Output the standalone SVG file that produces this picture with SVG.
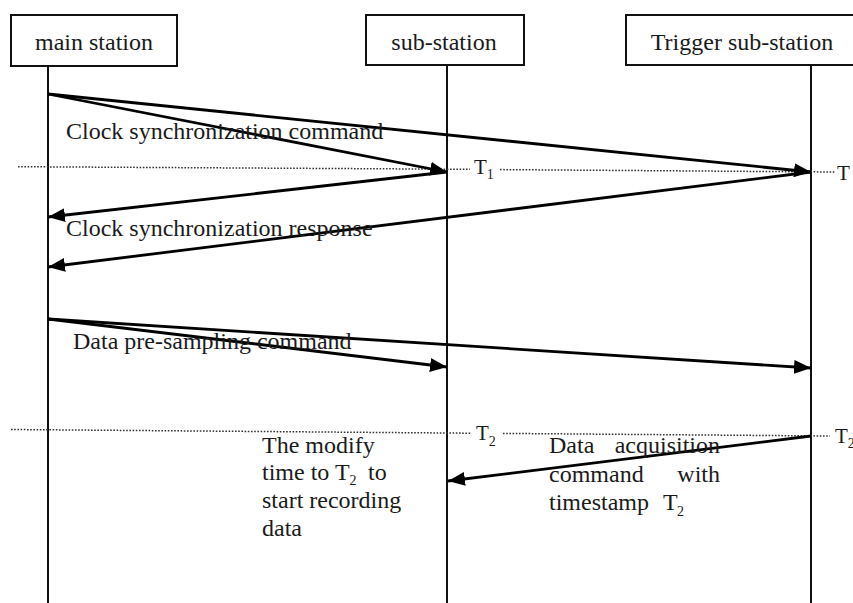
<svg xmlns="http://www.w3.org/2000/svg" width="853" height="603" viewBox="0 0 853 603">
<style>
.box{fill:#fff;stroke:#111;stroke-width:2}
.life{stroke:#111;stroke-width:2;fill:none}
.msg{stroke:#000;stroke-width:2.8;fill:none;marker-end:url(#ah)}
.dot{stroke:#333;stroke-width:1.5;stroke-dasharray:1.6 1.6;fill:none}
text{font-family:"Liberation Serif","Times New Roman",serif;fill:#1a1a1a}
.lbl{font-size:24px}
.t{font-size:21px}
.sub{font-size:14px}
</style>
<defs>
<marker id="ah" markerUnits="userSpaceOnUse" markerWidth="18" markerHeight="14" refX="17" refY="7" orient="auto">
<path d="M0,0 L17,7 L0,14 Z" fill="#000"/>
</marker>
</defs>
<rect width="853" height="603" fill="#fff"/>
<g id="main-station">
<rect class="box" x="11" y="15" width="166" height="51"/>
<text class="lbl" x="94" y="50" text-anchor="middle">main station</text>
<line class="life" x1="48" y1="66" x2="48" y2="603"/>
</g>
<g id="sub-station">
<rect class="box" x="366" y="15" width="158" height="50"/>
<text class="lbl" x="444" y="50" text-anchor="middle">sub-station</text>
<line class="life" x1="447" y1="65" x2="447" y2="603"/>
</g>
<g id="trigger-sub-station">
<rect class="box" x="626" y="15" width="232" height="50"/>
<text class="lbl" x="742" y="50" text-anchor="middle">Trigger sub-station</text>
<line class="life" x1="811" y1="65" x2="811" y2="603"/>
</g>
<g id="time-marks">
<line class="dot" x1="18" y1="166.7" x2="470" y2="169.3"/>
<line class="dot" x1="500" y1="169.6" x2="835" y2="172"/>
<text class="t" x="474" y="174">T<tspan class="sub" dy="5">1</tspan></text>
<text class="t" x="837" y="180">T</text>
<line class="dot" x1="11" y1="429.5" x2="471" y2="433.2"/>
<line class="dot" x1="503" y1="433.4" x2="830" y2="436"/>
<text class="t" x="476" y="440">T<tspan class="sub" dy="6">2</tspan></text>
<text class="t" x="835" y="443">T<tspan class="sub" dy="5">2</tspan></text>
</g>
<g id="connectors">
<line class="msg" x1="48" y1="94" x2="447" y2="172"/>
<line class="msg" x1="48" y1="94" x2="811" y2="172"/>
<line class="msg" x1="447" y1="172" x2="48" y2="217"/>
<line class="msg" x1="811" y1="172" x2="48" y2="267"/>
<line class="msg" x1="48" y1="319" x2="447" y2="367"/>
<line class="msg" x1="48" y1="319" x2="811" y2="368"/>
<line class="msg" x1="811" y1="436" x2="448" y2="481"/>
</g>
<g id="labels">
<text class="lbl" x="66" y="139">Clock synchronization command</text>
<text class="lbl" x="66" y="236">Clock synchronization response</text>
<text class="lbl" x="73" y="349">Data pre-sampling command</text>
<text class="lbl" x="262" y="453">The modify</text>
<text class="lbl" x="262" y="480">time to T<tspan class="sub" dy="5">2</tspan><tspan x="368" dy="-5">to</tspan></text>
<text class="lbl" x="262" y="508">start recording</text>
<text class="lbl" x="262" y="536">data</text>
<text class="lbl" x="549" y="453">Data</text>
<text class="lbl" x="720" y="453" text-anchor="end">acquisition</text>
<text class="lbl" x="549" y="482">command</text>
<text class="lbl" x="720" y="482" text-anchor="end">with</text>
<text class="lbl" x="549" y="510">timestamp</text>
<text class="lbl" x="663" y="510">T</text>
<text class="sub" x="677" y="516">2</text>
</g>
</svg>
